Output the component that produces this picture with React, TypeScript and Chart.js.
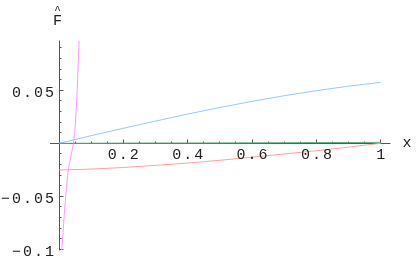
import React, { useEffect, useRef } from "react";
import { Chart, registerables } from "chart.js";

Chart.register(...registerables);

const xValues = [0, 0.1, 0.2, 0.3, 0.4, 0.5, 0.6, 0.7, 0.8, 0.9, 1.0];
const blueValues = [0, 0.0072, 0.0142, 0.021, 0.0276, 0.0338, 0.0396, 0.0449, 0.0497, 0.0539, 0.0575];
const redValues = [-0.0252, -0.0243, -0.0228, -0.0208, -0.0186, -0.016, -0.0131, -0.01, -0.007, -0.0036, 0.0];
const greenValues = [0, 0.0001, 0.0002, 0.0003, 0.0003, 0.0004, 0.0005, 0.0006, 0.0007, 0.0008, 0.0009];
const magentaX = [0.0085, 0.0145, 0.0208, 0.029, 0.037, 0.0445, 0.05, 0.053, 0.0565, 0.0595, 0.0625];
const magentaY = [-0.101, -0.075, -0.05, -0.025, -0.012, 0, 0.015, 0.03, 0.05, 0.075, 0.097];

const xTickLabels = ["0.2", "0.4", "0.6", "0.8", "1"];
const xTickValues = [0.2, 0.4, 0.6, 0.8, 1.0];
const yTickLabels = ["0.05", "\u22120.05", "\u22120.1"];
const yTickValues = [0.05, -0.05, -0.1];

const X_MIN = -0.028;
const X_MAX = 1.03;
const Y_MIN = -0.101;
const Y_MAX = 0.097;

const FONT = "15px 'Liberation Mono', 'DejaVu Sans Mono', monospace";
const SPACING = 2;

function textW(ctx: CanvasRenderingContext2D, s: string) {
  return ctx.measureText(s).width - SPACING;
}

const axesPlugin = {
  id: "mathAxes",
  beforeDatasetsDraw(chart: any) {
    const { ctx, scales, chartArea } = chart;
    const xs = scales.x;
    const ys = scales.y;
    const x0 = Math.floor(xs.getPixelForValue(0)) + 0.5;
    const y0 = Math.floor(ys.getPixelForValue(0)) + 0.5;
    ctx.save();
    ctx.strokeStyle = "#555";
    ctx.lineWidth = 1;
    ctx.beginPath();
    ctx.moveTo(chartArea.left, y0);
    ctx.lineTo(chartArea.right, y0);
    ctx.moveTo(x0, chartArea.top);
    ctx.lineTo(x0, chartArea.bottom);
    for (let i = 1; i <= 20; i++) {
      const v = i * 0.05;
      const px = Math.floor(xs.getPixelForValue(v)) + 0.5;
      const len = i % 4 === 0 ? 4 : 2;
      ctx.moveTo(px, y0);
      ctx.lineTo(px, y0 - len);
    }
    for (let i = -10; i <= 9; i++) {
      if (i === 0) continue;
      const v = i * 0.01;
      const py = Math.floor(ys.getPixelForValue(v)) + 0.5;
      const len = i % 5 === 0 ? 4 : 2;
      ctx.moveTo(x0, py);
      ctx.lineTo(x0 + len, py);
    }
    ctx.stroke();
    ctx.restore();
  },
  afterDraw(chart: any) {
    const { ctx, scales } = chart;
    const xs = scales.x;
    const ys = scales.y;
    const x0 = xs.getPixelForValue(0);
    const y0 = ys.getPixelForValue(0);
    ctx.save();
    ctx.fillStyle = "#222";
    ctx.font = FONT;
    (ctx as any).letterSpacing = SPACING + "px";
    ctx.textAlign = "left";
    ctx.textBaseline = "alphabetic";
    xTickLabels.forEach((lab, i) => {
      const px = xs.getPixelForValue(xTickValues[i]);
      const w = textW(ctx, lab);
      ctx.fillText(lab, px - w / 2, y0 + 16);
    });
    yTickLabels.forEach((lab, i) => {
      const py = ys.getPixelForValue(yTickValues[i]);
      const w = textW(ctx, lab);
      ctx.fillText(lab, x0 - 5 - w, py + 7);
    });
    const wx = textW(ctx, "x");
    ctx.fillText("x", 407 - wx / 2, y0 + 3.5);
    const wf = textW(ctx, "F");
    ctx.fillText("F", x0 - 1.5 - wf / 2, 25);
    ctx.font = "11px 'Liberation Mono', 'DejaVu Sans Mono', monospace";
    const wh = textW(ctx, "^");
    ctx.fillText("^", x0 - 1.5 - wh / 2, 13);
    ctx.restore();
  },
};

function pts(xsArr: number[], ysArr: number[]) {
  return xsArr.map((x, i) => ({ x, y: ysArr[i] }));
}

export default function App() {
  const ref = useRef<HTMLCanvasElement | null>(null);
  useEffect(() => {
    if (!ref.current) return;
    const line = (data: any, color: string) => ({
      data,
      borderColor: color,
      backgroundColor: color,
      borderWidth: 1,
      pointRadius: 0,
      showLine: true,
      cubicInterpolationMode: "monotone" as const,
      fill: false,
    });
    const chart = new Chart(ref.current, {
      type: "scatter",
      data: {
        datasets: [
          line(pts(xValues, greenValues), "rgb(90,175,125)"),
          line(pts(xValues, redValues), "rgb(255,160,160)"),
          line(pts(xValues, blueValues), "rgb(150,200,255)"),
          line(pts(magentaX, magentaY), "rgb(255,150,255)"),
        ],
      },
      options: {
        animation: false,
        responsive: false,
        devicePixelRatio: 1,
        layout: { padding: { left: 50, right: 25.6, top: 40.5, bottom: 6.6 } },
        plugins: { legend: { display: false }, tooltip: { enabled: false } },
        scales: {
          x: { type: "linear", min: X_MIN, max: X_MAX, display: false },
          y: { type: "linear", min: Y_MIN, max: Y_MAX, display: false },
        },
      },
      plugins: [axesPlugin],
    });
    return () => chart.destroy();
  }, []);
  return (
    <div style={{ position: "fixed", left: 0, top: 0, width: 416, height: 257, background: "#fff" }}>
      <canvas ref={ref} width={416} height={257} />
    </div>
  );
}
